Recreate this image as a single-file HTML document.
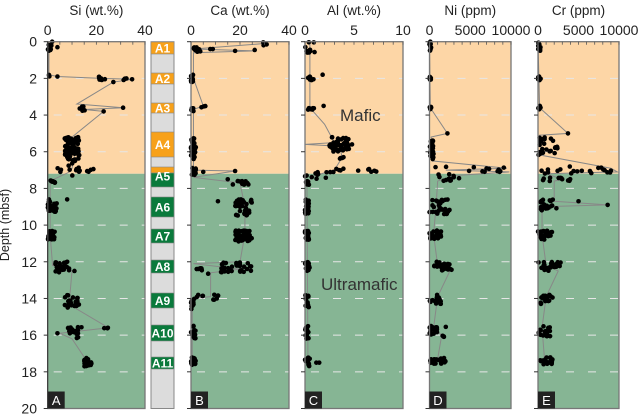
<!DOCTYPE html>
<html><head><meta charset="utf-8"><style>
html,body{margin:0;padding:0;background:#fff;}
svg{display:block;font-family:"Liberation Sans","DejaVu Sans",sans-serif;}
</style></head><body>
<svg id="s" width="640" height="418" viewBox="0 0 640 418" xmlns="http://www.w3.org/2000/svg">
<text x="9" y="225" transform="rotate(-90 9 225)" font-size="12.5" fill="#222" text-anchor="middle">Depth (mbsf)</text>
</svg>
<script>
var S=document.getElementById('s');var NS='http://www.w3.org/2000/svg';
function el(t,a,txt){var e=document.createElementNS(NS,t);for(var k in a)e.setAttribute(k,a[k]);if(txt!=null)e.textContent=txt;S.appendChild(e);return e;}
var Y0=41.7,Y1=408.5;function Y(d){return Y0+d*(Y1-Y0)/20;}
var BND=Y(7.2);
var seed=7;function rnd(){seed=(seed*16807)%2147483647;return (seed-1)/2147483646;}
var panels=[
 {x0:47.7,x1:145,max:40,title:"Si (wt.%)",ticks:[0,20,40],minor:5,letter:"A",
  cl:[[0,0.6,0,2,10],[0.3,0.3,4,4,1],[1.8,1.9,0,1,3],[1.9,1.9,4,4,1],[1.9,2.1,20,24,8],[1.95,2.1,31,35,5],[2.2,2.2,27,27,1],[3.4,3.8,12,17,6],[3.6,3.6,31,31,1],[3.8,3.8,23,23,1],[5.2,6.2,7,13,70],[6.2,7.3,8,13,15],[6.9,7.1,4,20,10],[7.5,7.7,0,3,8],[8.6,9.3,0,4,25],[8.6,8.6,8,8,1],[10.3,10.8,0,3,25],[12,12.6,3,9,25],[12.5,12.5,11,11,1],[13.8,14.5,7,13,30],[15.5,16.2,8,15,20],[15.55,15.65,23,25,3],[15.9,15.9,4,4,1],[17.2,17.7,15,18,20]],
  line:[[0,1],[0.6,0.5],[1.8,0.5],[1.9,4],[2,22],[2.05,35],[2.2,27],[3.4,12],[3.6,31],[3.7,15],[3.8,23],[5.2,10],[6.2,11],[6.9,10],[7.1,9],[7.6,1],[9,1],[10.5,1],[12.2,2],[12.5,10],[14,9],[14.5,11],[15.6,25],[15.9,5],[16.2,10],[17.2,15],[17.6,17]]},
 {x0:191,x1:289,max:40,title:"Ca (wt.%)",ticks:[0,20,40],minor:5,letter:"B",
  cl:[[0,0.2,29,31,5],[0.3,0.55,0,4,12],[0.4,0.4,7,10,2],[0.5,0.5,18,18,1],[0.45,0.45,26,26,1],[1.8,2.2,0,1,12],[3.5,3.6,4,7,3],[3.6,3.8,0,1,6],[5.2,6.4,0,2,25],[6.8,7.3,0,2,12],[7.1,7.1,5,5,1],[7.05,7.05,18,18,1],[7.5,7.5,15,15,1],[7.6,7.8,17,24,10],[8.6,9.5,18,25,40],[8.7,8.7,11,11,1],[10.3,10.9,18,25,40],[12,12.6,12,25,30],[12.1,12.5,1,5,6],[12.65,12.65,7,7,1],[13.8,14.1,0,13,10],[14.1,14.6,0,1,10],[15.5,16.2,0,2,15],[17.2,17.7,0,2,12]],
  line:[[0.1,30],[0.4,1],[0.5,26],[0.6,1],[2,1],[3.5,5],[3.7,1],[6,1],[7,1],[7.05,18],[7.4,1],[7.7,20],[9,22],[10.5,22],[12,20],[12.1,1],[12.4,20],[12.6,8],[13.9,8],[14,0.5],[17.5,0.5]]},
 {x0:305,x1:403,max:10,title:"Al (wt.%)",ticks:[0,5,10],minor:1,letter:"C",
  cl:[[0,0.6,0,1,10],[1.9,2.1,0,1,10],[1.8,1.8,1.8,1.8,1],[3.5,3.5,1.9,1.9,1],[3.6,3.8,0,1,8],[5.2,6,2.5,4.5,50],[5.6,5.6,4.8,4.8,1],[6.2,6.4,3.5,4,4],[6.9,7.1,2,7.5,10],[7.1,7.5,0,3,12],[7.6,7.8,0,0.4,8],[8.6,9.4,0,0.4,25],[10.3,10.8,0,0.4,20],[12,12.6,0,0.5,20],[13.8,14.5,0,0.4,15],[15.5,16.2,0,0.4,15],[17.2,17.7,0,0.5,12],[17.5,17.5,1,1.5,2]],
  line:[[0,0.5],[2,0.5],[3.6,0.5],[4.5,2],[5.5,3],[5.6,0],[5.7,3.5],[6.3,3.8],[7,3],[7.3,1],[7.7,0.2],[17.5,0.3]]},
 {x0:429.5,x1:511,max:10000,title:"Ni (ppm)",ticks:[0,5000,10000],minor:1000,letter:"D",
  cl:[[0,0.5,0,200,10],[1.9,2.1,0,200,8],[3.5,3.7,0,200,6],[5.0,5.0,2200,2200,1],[5.2,6.5,0,500,25],[6.8,7.1,0,9500,12],[7.1,7.1,8600,8600,1],[7.2,7.6,1000,4000,12],[8.6,9.4,0,2500,30],[10.3,10.8,0,1500,20],[12,12.5,500,2800,25],[13.8,14.3,0,1500,18],[15.5,16,0,1000,18],[15.55,15.55,2000,2000,1],[16,16.1,1500,1800,3],[17.2,17.6,0,2000,18]],
  line:[[0,0.1],[3.6,100],[5,2200],[5.2,200],[6.5,300],[6.9,9500],[7,2000],[7.1,9800],[7.3,3000],[7.6,1000],[9,800],[10.5,500],[12.2,1000],[12.5,2500],[13.9,1000],[15.6,500],[16,1500],[17.3,1000]]},
 {x0:538,x1:619,max:10000,title:"Cr (ppm)",ticks:[0,5000,10000],minor:1000,letter:"E",
  cl:[[0,0.5,0,400,10],[1.9,2.1,0,400,8],[3.5,3.7,0,400,6],[5.0,5.0,3700,3700,1],[5.2,6.2,0,2500,25],[6.8,7.2,0,9500,20],[7.4,7.6,0,4000,12],[8.6,9.2,0,2500,20],[8.7,8.7,5000,5000,1],[8.9,8.9,8600,8600,1],[10.3,10.8,0,2000,20],[12,12.5,0,2800,25],[13.8,14.3,0,1800,18],[15.5,16.1,0,1500,18],[17.2,17.6,0,1800,18]],
  line:[[0,0.2],[3.6,200],[5,3700],[5.1,200],[6.2,500],[6.9,9000],[7.1,9800],[7.2,1000],[7.5,3000],[7.6,2000],[8.7,2000],[8.9,8600],[9,500],[10.5,500],[12.2,1000],[12.5,2500],[13.9,1000],[15.6,500],[17.3,800]]}
];
panels.forEach(function(p){
 var w=p.x1-p.x0;function X(v){return p.x0+v/p.max*w;}
 el('rect',{x:p.x0,y:Y0,width:w,height:BND-Y0,fill:'#fdd6a6'});
 el('rect',{x:p.x0,y:BND,width:w,height:Y1-BND,fill:'#86b594'});
 for(var d=2;d<20;d+=2)el('line',{x1:p.x0,x2:p.x1,y1:Y(d),y2:Y(d),stroke:'#e6e6e6','stroke-width':1,'stroke-dasharray':'8,14','stroke-dashoffset':'-6'});
 var pts=p.line.map(function(q){return X(q[1])+','+Y(q[0]);}).join(' ');
 el('polyline',{points:pts,fill:'none',stroke:'#888','stroke-width':1});
 p.cl.forEach(function(c){for(var i=0;i<c[4];i++){var d=c[0]+(c[1]-c[0])*rnd();var v=c[2]+(c[3]-c[2])*rnd();el('circle',{cx:X(v),cy:Y(d),r:2.3,fill:'#000'});}});
 el('rect',{x:p.x0,y:Y0,width:w,height:Y1-Y0,fill:'none',stroke:'#777','stroke-width':1.3});
 for(var v=0;v<=p.max+1e-9;v+=p.minor)el('line',{x1:X(v),x2:X(v),y1:Y0,y2:Y0+3,stroke:'#555','stroke-width':0.8});
 p.ticks.forEach(function(t){el('text',{x:X(t),y:35,'font-size':14,'text-anchor':'middle',fill:'#222'},t);});
 el('text',{x:(p.x0+p.x1)/2,y:15,'font-size':13.5,'text-anchor':'middle',fill:'#222'},p.title);
 for(var d=0;d<=20;d+=2)el('line',{x1:p.x0-4,x2:p.x0,y1:Y(d),y2:Y(d),stroke:'#333','stroke-width':1});
 el('rect',{x:p.x0,y:Y1-17,width:17,height:17,fill:'#222'});
 el('text',{x:p.x0+8.5,y:Y1-3.5,'font-size':13,'text-anchor':'middle',fill:'#fff'},p.letter);
});
el('line',{x1:47.7,x2:47.7,y1:Y0,y2:Y1,stroke:'#333','stroke-width':1});
for(var d=0;d<=20;d+=2)el('text',{x:37,y:Y(d)+5,'font-size':14,'text-anchor':'end',fill:'#222'},d);
el('rect',{x:151,y:Y0,width:23,height:Y1-Y0,fill:'#dcdcdc',stroke:'#888','stroke-width':1});
var U=[["A1",42,54,'o'],["A2",73,84,'o'],["A3",103,113,'o'],["A4",132,157,'o'],["",167,173,'o'],["A5",173,187,'g'],["A6",197,217,'g'],["A7",229,243,'g'],["A8",260,273,'g'],["A9",293,308,'g'],["A10",325,341,'g'],["A11",357,369,'g']];
U.forEach(function(u){el('rect',{x:151,y:u[1],width:23,height:u[2]-u[1],fill:u[3]=='o'?'#f7a11a':'#0a7a3c',stroke:'#888','stroke-width':0.6});
 if(u[0]){var cy=(u[1]+u[2])/2;if(u[0]=="A5")cy=176;el('text',{x:162.5,y:cy+4.5,'font-size':12,'font-weight':'bold','text-anchor':'middle',fill:'#fff'},u[0]);}});
el('text',{x:340,y:121,'font-size':17,fill:'#333'},'Mafic');
el('text',{x:321,y:290,'font-size':17,fill:'#333'},'Ultramafic');
</script>
</body></html>
